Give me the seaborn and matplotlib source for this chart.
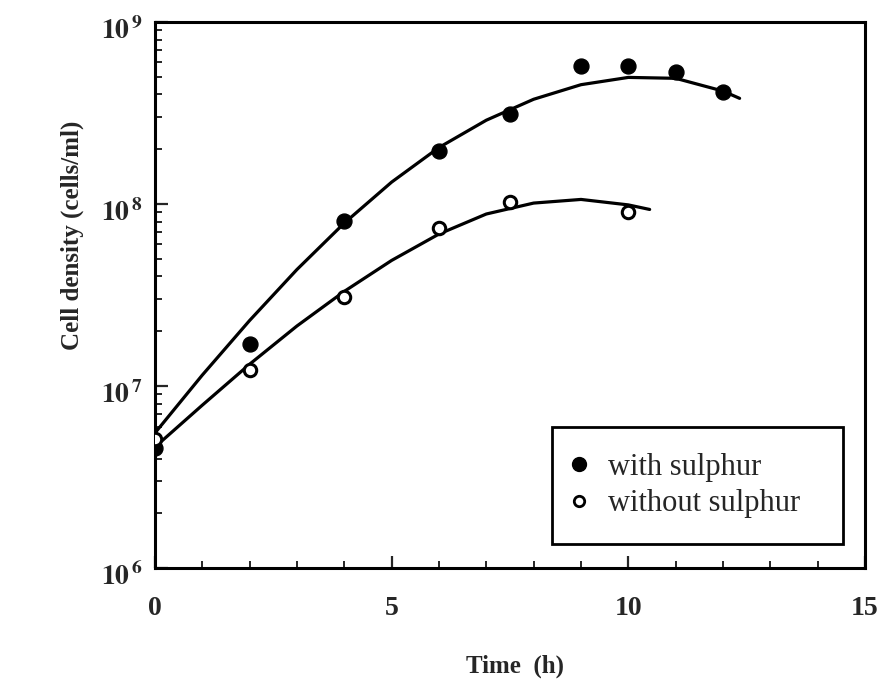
import numpy as np
import pandas as pd
import matplotlib
matplotlib.use("Agg")
import matplotlib.pyplot as plt
import matplotlib.transforms as mtransforms
import seaborn as sns
from matplotlib.ticker import FixedLocator, FixedFormatter, LogLocator, NullFormatter, MultipleLocator
from matplotlib.lines import Line2D

time_with = [0, 2, 4, 6, 7.5, 9, 10, 11, 12]
density_with = [4.6e6, 1.7e7, 8.1e7, 1.95e8, 3.1e8, 5.7e8, 5.7e8, 5.3e8, 4.1e8]
time_without = [0, 2, 4, 6, 7.5, 10]
density_without = [5.1e6, 1.22e7, 3.1e7, 7.4e7, 1.03e8, 9.0e7]

curve_time_with = [0, 1, 2, 3, 4, 5, 6, 7, 8, 9, 10, 11, 12, 12.35]
curve_log_with = [6.742, 7.06, 7.36, 7.64, 7.895, 8.12, 8.31, 8.46, 8.575,
                  8.655, 8.695, 8.69, 8.62, 8.58]
curve_time_without = [0, 1, 2, 3, 4, 5, 6, 7, 8, 9, 10, 10.45]
curve_log_without = [6.665, 6.895, 7.12, 7.33, 7.52, 7.69, 7.835, 7.945, 8.005,
                     8.025, 7.995, 7.97]

series_labels = ["with sulphur", "without sulphur"]
xticks = [0, 5, 10, 15]
ytick_vals = [1e6, 1e7, 1e8, 1e9]
ytick_labels = [r"$\mathbf{10^{\,6}}$", r"$\mathbf{10^{\,7}}$",
                r"$\mathbf{10^{\,8}}$", r"$\mathbf{10^{\,9}}$"]

sns.set_theme(style="ticks")
plt.rcParams["font.family"] = ["Liberation Serif", "DejaVu Serif"]
plt.rcParams["mathtext.fontset"] = "stix"

fig = plt.figure(figsize=(8.9, 6.83), dpi=100)
ax = fig.add_axes([0.174, 0.168, 0.798, 0.800])

df_w = pd.DataFrame({"t": time_with, "d": density_with})
df_wo = pd.DataFrame({"t": time_without, "d": density_without})
cw = pd.DataFrame({"t": curve_time_with, "d": np.power(10.0, curve_log_with)})
cwo = pd.DataFrame({"t": curve_time_without, "d": np.power(10.0, curve_log_without)})

sns.lineplot(data=cw, x="t", y="d", ax=ax, color="black", lw=2.3, sort=False)
sns.lineplot(data=cwo, x="t", y="d", ax=ax, color="black", lw=2.3, sort=False)
for ln in ax.get_lines():
    ln.set_solid_joinstyle("round")

sns.scatterplot(data=df_w, x="t", y="d", ax=ax, color="black", s=115,
                edgecolor="black", linewidth=1, zorder=3)
sns.scatterplot(data=df_wo, x="t", y="d", ax=ax, facecolor="white", s=80,
                edgecolor="black", linewidth=2.2, zorder=3)

ax.set_yscale("log")
ax.set_xlim(0, 15)
ax.set_ylim(1e6, 1e9)
ax.xaxis.set_major_locator(FixedLocator(xticks))
ax.xaxis.set_minor_locator(MultipleLocator(1))
ax.yaxis.set_major_locator(FixedLocator(ytick_vals))
ax.yaxis.set_major_formatter(FixedFormatter(ytick_labels))
ax.yaxis.set_minor_locator(LogLocator(base=10, subs=np.arange(2, 10)))
ax.yaxis.set_minor_formatter(NullFormatter())
ax.tick_params(axis="both", which="major", direction="in", length=9, width=1.6,
               labelsize=20)
ax.tick_params(axis="y", which="major", pad=9)
ax.tick_params(axis="x", which="major", pad=20)
ax.tick_params(axis="both", which="minor", direction="in", length=5, width=1.4)
ax.tick_params(axis="x", which="both", top=False)
ax.tick_params(axis="y", which="both", right=False)
for lab in ax.get_xticklabels():
    lab.set_fontweight("bold")
shift = mtransforms.ScaledTranslation(0, -6 / 100, fig.dpi_scale_trans)
for lab in ax.get_yticklabels():
    lab.set_transform(lab.get_transform() + shift)
for s in ax.spines.values():
    s.set_linewidth(2.2)
    s.set_visible(True)
    s.set_color("black")

ax.set_xlabel("Time  (h)", fontsize=18, fontweight="bold")
ax.set_ylabel("Cell density (cells/ml)", fontsize=18, fontweight="bold")
ax.xaxis.set_label_coords(0.507, -0.158)
ax.yaxis.set_label_coords(-0.10, 0.61)

handles = [
    Line2D([], [], marker="o", ls="", color="black", markersize=10),
    Line2D([], [], marker="o", ls="", markerfacecolor="white", markeredgecolor="black",
           markeredgewidth=2, markersize=7.5),
]
leg = ax.legend(handles, series_labels, loc="lower left",
                bbox_to_anchor=(0.559, 0.044, 0.410, 0.2), mode="expand",
                fontsize=22, frameon=True, fancybox=False, edgecolor="black",
                borderpad=0.85, labelspacing=0.25, handlelength=0.1,
                handletextpad=0.9, borderaxespad=0)
leg.get_frame().set_linewidth(2)
leg.get_frame().set_alpha(1)

fig.savefig("out.png", dpi=100)
